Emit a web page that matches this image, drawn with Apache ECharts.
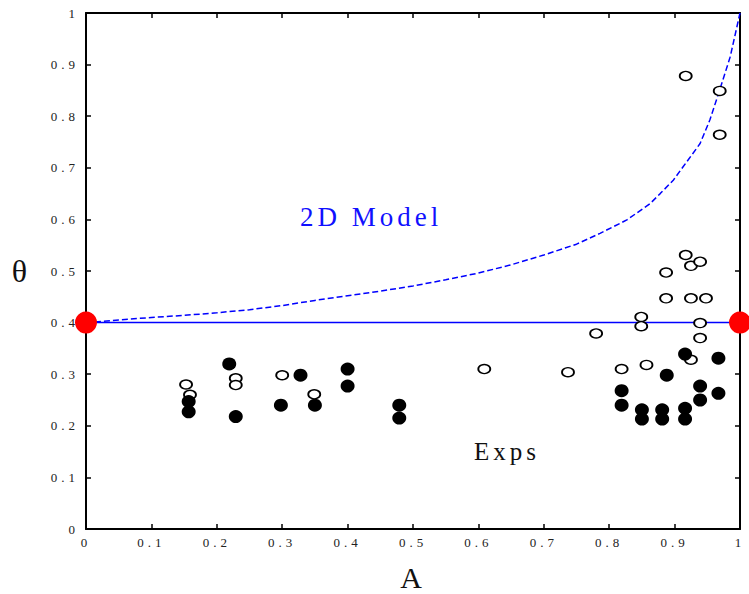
<!DOCTYPE html>
<html>
<head>
<meta charset="utf-8">
<title>θ versus A</title>
<script src="https://cdn.jsdelivr.net/npm/echarts@6/dist/echarts.min.js"></script>
<style>
  html, body { margin: 0; padding: 0; background: #fff; }
  #chart { width: 749px; height: 594px; }
  /* wide tracking used for every label in this figure */
  #chart svg text { letter-spacing: 4px; }
</style>
</head>
<body>
<div id="chart"></div>
<script>
// 2D model prediction of theta as a function of A
const modelA = [0, 0.05, 0.1, 0.15, 0.2, 0.25, 0.3, 0.35, 0.4, 0.45, 0.5, 0.55, 0.6, 0.65, 0.7, 0.75,
  0.786, 0.827, 0.862, 0.878, 0.898, 0.913, 0.939, 0.954, 0.969, 0.985, 1.0];
const modelTheta = [0.400, 0.405, 0.410, 0.414, 0.419, 0.425, 0.433, 0.443, 0.452, 0.461, 0.471, 0.483,
  0.496, 0.512, 0.531, 0.552, 0.573, 0.599, 0.630, 0.650, 0.676, 0.702, 0.747, 0.793, 0.851, 0.915, 1.0];

// reference level theta = 0.4 and its two end points
const baseA = [0, 1];
const baseTheta = [0.4, 0.4];

// experiments, open symbols
const openA = [0.153, 0.159, 0.229, 0.229, 0.300, 0.349, 0.609, 0.737, 0.780, 0.819, 0.849, 0.849,
  0.857, 0.887, 0.887, 0.917, 0.925, 0.939, 0.925, 0.948, 0.939, 0.939, 0.925, 0.917, 0.969, 0.969];
const openTheta = [0.280, 0.260, 0.292, 0.279, 0.298, 0.261, 0.310, 0.304, 0.379, 0.310, 0.411, 0.393,
  0.318, 0.497, 0.447, 0.531, 0.510, 0.518, 0.447, 0.447, 0.399, 0.370, 0.328, 0.878, 0.849, 0.764];

// experiments, filled symbols
const filledA = [0.157, 0.157, 0.219, 0.229, 0.328, 0.298, 0.350, 0.400, 0.400, 0.479, 0.479,
  0.888, 0.916, 0.967, 0.819, 0.819, 0.850, 0.850, 0.881, 0.881, 0.916, 0.916, 0.939, 0.939, 0.967];
const filledTheta = [0.247, 0.227, 0.320, 0.218, 0.298, 0.240, 0.240, 0.310, 0.277, 0.240, 0.215,
  0.298, 0.339, 0.331, 0.268, 0.240, 0.231, 0.213, 0.231, 0.213, 0.234, 0.213, 0.277, 0.250, 0.263];

// axis range and tick step
const axisMin = 0, axisMax = 1, axisStep = 0.1;

const zip = (xs, ys) => xs.map((x, i) => [x, ys[i]]);
const serif = 'Liberation Serif, Times New Roman, serif';
const tickText = v => (v === 0 || v === 1) ? String(v) : v.toFixed(1);

function makeAxis(position, showLabels, name, extra) {
  return Object.assign({
    type: 'value',
    position: position,
    min: axisMin,
    max: axisMax,
    interval: axisStep,
    axisLine: { show: true, onZero: false, lineStyle: { color: '#000', width: 2 } },
    axisTick: { show: true, inside: true, length: 5, lineStyle: { color: '#000', width: 1.5 } },
    axisLabel: showLabels ? {
      show: true, formatter: tickText, color: '#222',
      fontFamily: serif, fontSize: 13, margin: 7
    } : { show: false },
    splitLine: { show: false },
    name: name || '',
  }, extra || {});
}

const chart = echarts.init(document.getElementById('chart'), null, { renderer: 'svg' });

chart.setOption({
  animation: false,
  backgroundColor: '#fff',
  grid: { left: 86, right: 9, top: 13, bottom: 65, containLabel: false, outerBoundsMode: 'none' },
  xAxis: [
    makeAxis('bottom', true, 'A', {
      nameLocation: 'middle', nameGap: 33,
      nameTextStyle: { fontFamily: serif, fontSize: 30, color: '#111' }
    }),
    makeAxis('top', false)
  ],
  yAxis: [
    makeAxis('left', true, 'θ', {
      nameLocation: 'middle', nameGap: 55, nameRotate: 0,
      nameTextStyle: { fontFamily: serif, fontSize: 32, color: '#111' }
    }),
    makeAxis('right', false)
  ],
  graphic: [
    {
      type: 'text', x: 300, y: 217, silent: true,
      style: { text: '2D Model', fontFamily: serif, fontSize: 27, fill: '#1010ff',
        align: 'left', verticalAlign: 'middle' }
    },
    {
      type: 'text', x: 474, y: 451, silent: true,
      style: { text: 'Exps', fontFamily: serif, fontSize: 25, fill: '#111',
        align: 'left', verticalAlign: 'middle' }
    }
  ],
  series: [
    {
      name: '2D Model', type: 'line', data: zip(modelA, modelTheta),
      symbol: 'none', smooth: false,
      lineStyle: { color: '#0000ff', width: 1.5, type: [6, 3] }, z: 3
    },
    {
      name: 'level', type: 'line', data: zip(baseA, baseTheta),
      symbol: 'none',
      lineStyle: { color: '#0000ff', width: 1.5 }, z: 3
    },
    {
      name: 'Exps open', type: 'scatter', data: zip(openA, openTheta),
      symbol: 'circle', symbolSize: [12, 9],
      itemStyle: { color: '#fff', borderColor: '#000', borderWidth: 1.6, opacity: 1 }, z: 4
    },
    {
      name: 'Exps filled', type: 'scatter', data: zip(filledA, filledTheta),
      symbol: 'circle', symbolSize: [14, 13],
      itemStyle: { color: '#000', opacity: 1 }, z: 5
    },
    {
      name: 'ends', type: 'scatter', data: zip(baseA, baseTheta),
      symbol: 'circle', symbolSize: 22, clip: false,
      itemStyle: { color: '#ff0000', opacity: 1 }, z: 6
    }
  ]
});
</script>
</body>
</html>
